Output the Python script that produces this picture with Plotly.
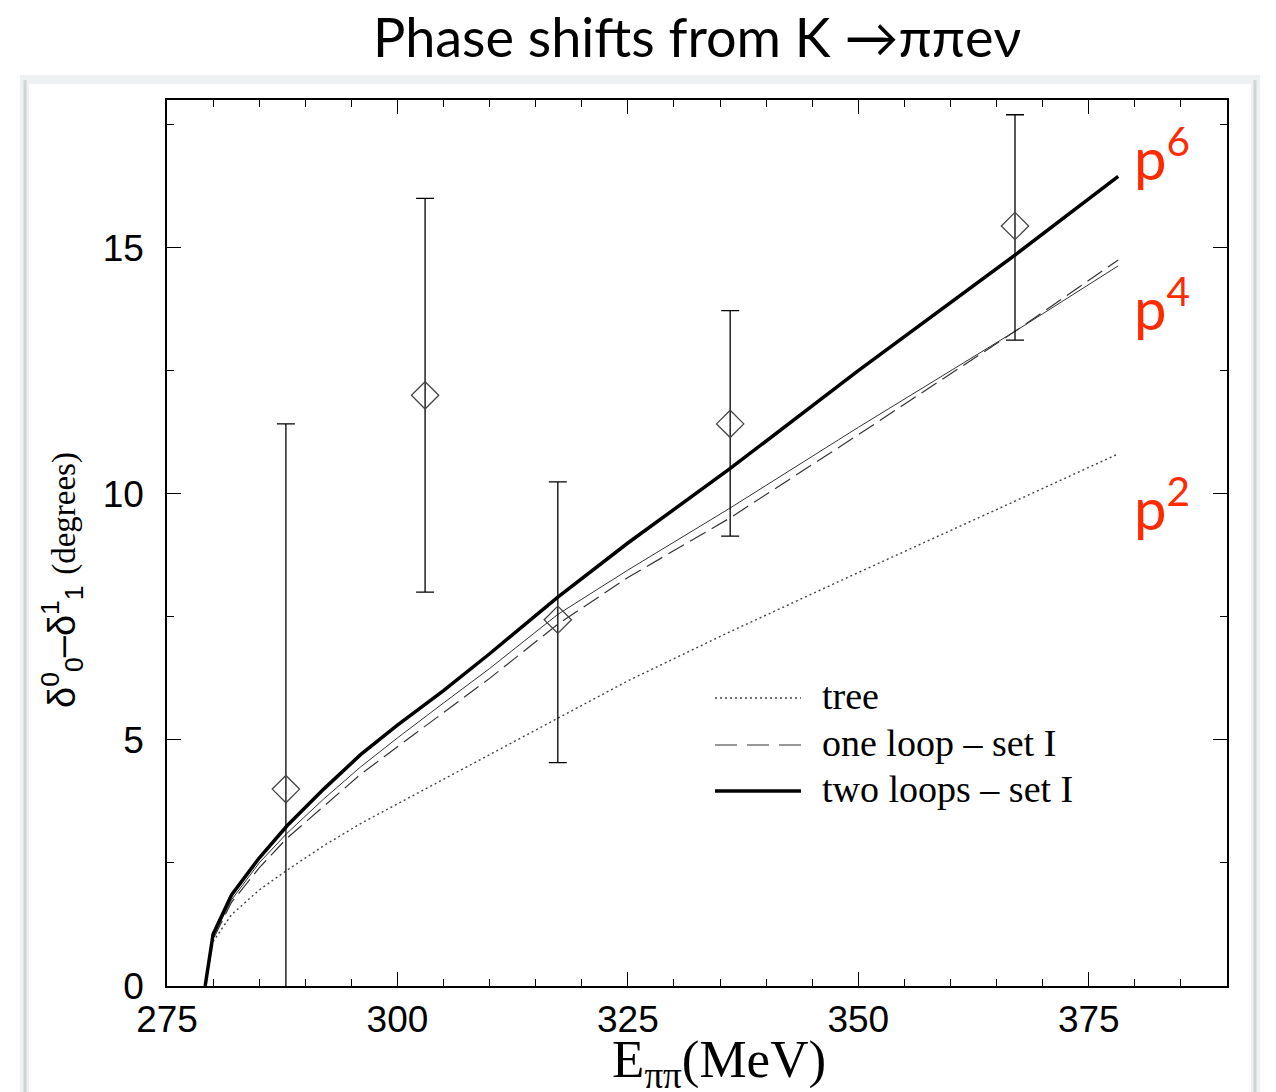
import plotly.graph_objects as go

# ---------------- data ----------------
energy = [279.14, 280, 282, 285, 288, 292, 296, 300, 305, 310, 317.4, 325, 336, 350, 367, 378.2]
tree = [0, 0.9, 1.45, 1.95, 2.35, 2.85, 3.3, 3.7, 4.2, 4.7, 5.44, 6.2, 7.19, 8.4, 9.85, 10.81]
one_loop_set1 = [0, 0.95, 1.7, 2.4, 3.0, 3.65, 4.3, 4.86, 5.55, 6.25, 7.35, 8.3, 9.5, 11.2, 13.3, 14.75]
one_loop_thin = [0, 1.0, 1.75, 2.5, 3.1, 3.8, 4.45, 5.04, 5.75, 6.45, 7.55, 8.45, 9.7, 11.35, 13.3, 14.63]
two_loops_set1 = [0, 1.05, 1.85, 2.6, 3.25, 4.0, 4.7, 5.3, 6.0, 6.75, 7.9, 9.0, 10.5, 12.5, 14.85, 16.45]

exp_energy = [287.9, 303.0, 317.4, 336.1, 367.0]
exp_phase = [4.0, 12.0, 7.44, 11.42, 15.44]
exp_err_plus = [7.42, 4.0, 2.8, 2.3, 2.26]
exp_err_minus = [7.42, 4.0, 2.9, 2.28, 2.32]

x_ticks = [275, 300, 325, 350, 375]
y_ticks = [0, 5, 10, 15]
order_labels = ["p<sup>6</sup>", "p<sup>4</sup>", "p<sup>2</sup>"]
order_label_y = [16.9, 13.85, 9.8]
legend_names = ["tree", "one loop – set I", "two loops – set I"]

# ---------------- geometry (page pixels; the page body adds an 8px offset) ----------------
OFF = 8
PAGE_W, PAGE_H = 1276, 1092
W, H = PAGE_W - OFF, PAGE_H - OFF
PL, PR, PT, PB = 167, 1227, 100, 986   # plot frame in page pixels
L, R, T, B = PL - OFF, PR - OFF, PT - OFF, PB - OFF


def px_x(p):
    return (p - PL) / (PR - PL)


def px_y(p):
    return (PB - p) / (PB - PT)


fig = go.Figure()

fig.add_trace(go.Scatter(x=energy, y=tree, mode="lines", name=legend_names[0],
                         line=dict(color="#444444", width=1.4, dash="2px,3px"), showlegend=False))
fig.add_trace(go.Scatter(x=energy, y=one_loop_thin, mode="lines", name="one loop",
                         line=dict(color="#333333", width=1.0), showlegend=False))
fig.add_trace(go.Scatter(x=energy, y=one_loop_set1, mode="lines", name=legend_names[1],
                         line=dict(color="#333333", width=1.2, dash="18px,7px"), showlegend=False))
fig.add_trace(go.Scatter(x=energy, y=two_loops_set1, mode="lines", name=legend_names[2],
                         line=dict(color="black", width=3.5), showlegend=False))
fig.add_trace(go.Scatter(
    x=exp_energy, y=exp_phase, mode="markers", name="data", showlegend=False,
    marker=dict(symbol="diamond-open", size=21, color="#444444", line=dict(width=1.3)),
    error_y=dict(type="data", symmetric=False, array=exp_err_plus, arrayminus=exp_err_minus,
                 color="black", thickness=1.3, width=9)))

shapes = []
# outer framed box with soft shadow
shapes.append(dict(type="rect", xref="paper", yref="paper",
                   x0=px_x(20), x1=px_x(1260), y0=px_y(1110), y1=px_y(75),
                   fillcolor="#eef1f1", line=dict(width=0), layer="below"))
shapes.append(dict(type="line", xref="paper", yref="paper",
                   x0=px_x(25), x1=px_x(25), y0=px_y(1110), y1=px_y(80),
                   line=dict(color="#cfd3d3", width=3), layer="below"))
shapes.append(dict(type="line", xref="paper", yref="paper",
                   x0=px_x(1255), x1=px_x(1255), y0=px_y(1110), y1=px_y(80),
                   line=dict(color="#cfd3d3", width=3), layer="below"))
shapes.append(dict(type="rect", xref="paper", yref="paper",
                   x0=px_x(29), x1=px_x(1251), y0=px_y(1110), y1=px_y(84),
                   fillcolor="white", line=dict(width=0), layer="below"))

# hand-drawn legend samples
leg_y = [698, 745, 791]
leg_styles = [dict(color="#444444", width=1.4, dash="2px,3px"),
              dict(color="#333333", width=1.2, dash="22px,10px"),
              dict(color="black", width=3.5)]
for yy, st in zip(leg_y, leg_styles):
    shapes.append(dict(type="line", xref="paper", yref="paper",
                       x0=px_x(715), x1=px_x(801), y0=px_y(yy), y1=px_y(yy), line=st))

annotations = []
for yy, name in zip(leg_y, legend_names):
    annotations.append(dict(xref="paper", yref="paper", x=px_x(820), y=px_y(yy - 2),
                            xanchor="left", yanchor="middle", showarrow=False, text=name,
                            font=dict(family="Liberation Serif", size=38, color="black")))

for txt, yy in zip(order_labels, order_label_y):
    annotations.append(dict(xref="x", yref="y", x=383.0, y=yy, xanchor="center", yanchor="middle",
                            showarrow=False, text=txt,
                            font=dict(family="Lato", size=58, color="#ff2a00")))

# axis titles
annotations.append(dict(xref="paper", yref="paper", x=px_x(719), y=px_y(1063),
                        xanchor="center", yanchor="middle", showarrow=False,
                        text="E<sub>ππ</sub>(MeV)",
                        font=dict(family="Liberation Serif", size=53, color="black")))
annotations.append(dict(xref="paper", yref="paper", x=px_x(62), y=px_y(580),
                        xanchor="center", yanchor="middle", showarrow=False, textangle=-90,
                        text="δ<sup>0</sup><sub>0</sub>–δ<sup>1</sup><sub>1</sub> "
                             "<span style='font-family:Liberation Serif;font-size:33px'>(degrees)</span>",
                        font=dict(family="Liberation Sans", size=38, color="black")))

fig.update_layout(
    width=W, height=H,
    margin=dict(l=L, r=W - R, t=T, b=H - B),
    paper_bgcolor="white", plot_bgcolor="white",
    title=dict(text="Phase shifts from K →ππeν", x=0.5, xref="paper", xanchor="center",
               y=1 - (38 - OFF) / H, yref="container", yanchor="middle",
               font=dict(family="Lato", size=54, color="black")),
    shapes=shapes, annotations=annotations,
    showlegend=False,
)

fig.update_xaxes(range=[275, 390], tickvals=x_ticks, ticks="inside", ticklen=14, tickwidth=1.3,
                 tickcolor="black", showline=True, linecolor="black", linewidth=1.5, mirror="ticks",
                 showgrid=False, zeroline=False,
                 tickfont=dict(family="Liberation Sans", size=37, color="black"),
                 minor=dict(dtick=5, tick0=275, ticks="inside", ticklen=7, tickwidth=1.1,
                            tickcolor="black", showgrid=False))
fig.update_yaxes(range=[0, 18], tickvals=y_ticks, ticks="inside", ticklen=14, tickwidth=1.3,
                 tickcolor="black", showline=True, linecolor="black", linewidth=1.5, mirror="ticks",
                 showgrid=False, zeroline=False, ticklabelstandoff=14,
                 tickfont=dict(family="Liberation Sans", size=37, color="black"),
                 minor=dict(dtick=2.5, tick0=0, ticks="inside", ticklen=7, tickwidth=1.1,
                            tickcolor="black", showgrid=False))

fig.write_html("out.html")
